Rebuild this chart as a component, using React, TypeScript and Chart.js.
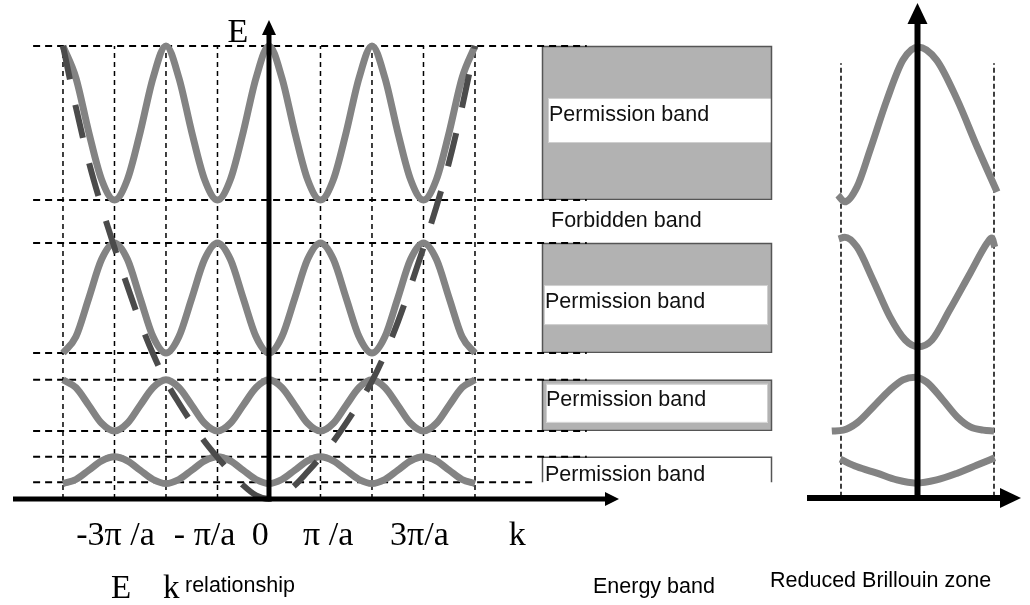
import React, { useEffect, useRef } from "react";
import { Chart, registerables } from "chart.js";

Chart.register(...registerables);

// Wave vector samples (grid units, 1 unit = π/a) and extended-zone energy bands (arb. units)
const kSamples = [
  -4, -3.75, -3.5, -3.25, -3, -2.75, -2.5, -2.25, -2, -1.75, -1.5, -1.25, -1, -0.75, -0.5, -0.25,
  0, 0.25, 0.5, 0.75, 1, 1.25, 1.5, 1.75, 2, 2.25, 2.5, 2.75, 3, 3.25, 3.5, 3.75, 4,
];

const band1 = [
  10, 9.3, 8.1, 7.05, 6.6, 7.05, 8.1, 9.3, 10, 9.3, 8.1, 7.05, 6.6, 7.05, 8.1, 9.3,
  10, 9.3, 8.1, 7.05, 6.6, 7.05, 8.1, 9.3, 10, 9.3, 8.1, 7.05, 6.6, 7.05, 8.1, 9.3, 10,
];
const band2 = [
  3.22, 3.58, 4.43, 5.29, 5.65, 5.29, 4.43, 3.58, 3.22, 3.58, 4.43, 5.29, 5.65, 5.29, 4.43, 3.58,
  3.22, 3.58, 4.43, 5.29, 5.65, 5.29, 4.43, 3.58, 3.22, 3.58, 4.43, 5.29, 5.65, 5.29, 4.43, 3.58, 3.22,
];
const band3 = [
  2.63, 2.46, 2.07, 1.67, 1.5, 1.67, 2.07, 2.46, 2.63, 2.46, 2.07, 1.67, 1.5, 1.67, 2.07, 2.46,
  2.63, 2.46, 2.07, 1.67, 1.5, 1.67, 2.07, 2.46, 2.63, 2.46, 2.07, 1.67, 1.5, 1.67, 2.07, 2.46, 2.63,
];
const band4 = [
  0.34, 0.43, 0.635, 0.84, 0.93, 0.84, 0.635, 0.43, 0.34, 0.43, 0.635, 0.84, 0.93, 0.84, 0.635, 0.43,
  0.34, 0.43, 0.635, 0.84, 0.93, 0.84, 0.635, 0.43, 0.34, 0.43, 0.635, 0.84, 0.93, 0.84, 0.635, 0.43, 0.34,
];

// Free-electron parabola E(k)
const freeElectron = [
  10, 8.65, 7.45, 6.45, 5.55, 4.7, 3.9, 3.2, 2.6, 2.12, 1.68, 1.27, 0.92, 0.6, 0.3, 0.08,
  0, 0.08, 0.3, 0.6, 0.92, 1.27, 1.68, 2.12, 2.6, 3.2, 3.9, 4.7, 5.55, 6.45, 7.45, 8.65, 10,
];

// Allowed band limits [top, bottom]
const bandRanges: [number, number][] = [
  [10, 6.6],
  [5.65, 3.22],
  [2.63, 1.5],
  [0.93, 0.37],
];
const gridK = [-4, -3, -2, -1, 1, 2, 3, 4];

// Reduced zone (u = k / (π/a) folded into [-1, 1])
const reducedU1 = [-1.04, -0.95, -0.79, -0.62, -0.4, -0.19, 0.01, 0.25, 0.52, 0.78, 1.04];
const reducedE1 = [6.71, 6.56, 6.89, 7.7, 8.81, 9.69, 9.98, 9.69, 8.81, 7.77, 6.78];
const reducedU2 = [-1.03, -0.95, -0.79, -0.58, -0.36, -0.16, 0.01, 0.19, 0.42, 0.69, 0.91, 0.97, 1.01];
const reducedE2 = [5.74, 5.78, 5.56, 4.83, 4.02, 3.51, 3.36, 3.51, 4.17, 4.99, 5.65, 5.76, 5.56];
const reducedU3 = [-1.12, -0.97, -0.79, -0.58, -0.36, -0.19, -0.03, 0.12, 0.33, 0.52, 0.69, 0.86, 1.0];
const reducedE3 = [1.5, 1.52, 1.68, 2.03, 2.41, 2.63, 2.69, 2.58, 2.19, 1.81, 1.59, 1.52, 1.5];
const reducedU4 = [-1.01, -0.79, -0.53, -0.27, -0.02, 0.25, 0.52, 0.78, 1.01];
const reducedE4 = [0.88, 0.71, 0.57, 0.42, 0.35, 0.42, 0.57, 0.75, 0.91];
const zoneEdges = [-1, 1];

// Axis texts
const tickLabels = ["-3π /a", "- π/a", "0", "π /a", "3π/a", "k"];
const tickPositions = [-2.98, -1.25, -0.17, 1.15, 2.92, 4.82];
const bandLabel = "Permission band";
const gapLabel = "Forbidden band";

// ---- layout / style ----
const W = 1030;
const H = 605;
const BOX_L = 542;
const BOX_R = 772;
const GUIDE_K_START = -4.58;
const GUIDE_K_END = 6.17;
const GUIDE_K_END_SHORT = 5.2;
const SERIF = '"Liberation Serif", "Times New Roman", serif';
const SANS = '"Liberation Sans", Arial, sans-serif';
const BAND_GRAY = "#838383";

type BoxStyle = {
  fill: string;
  strip?: [number, number, number, number]; // x0, x1, offset top, offset bottom
  textX: number;
  textDy: number;
  openBottom?: boolean;
};
const boxStyles: BoxStyle[] = [
  { fill: "#b2b2b2", strip: [548, 772, 52, 97], textX: 549, textDy: 75 },
  { fill: "#b2b2b2", strip: [544, 768, 42, 82], textX: 545, textDy: 65 },
  { fill: "#b2b2b2", strip: [546, 768, 4, 43], textX: 546, textDy: 26 },
  { fill: "#ffffff", textX: 545, textDy: 24, openBottom: true },
];

const pts = (xs: number[], ys: number[]) => xs.map((x, i) => ({ x, y: ys[i] }));

const decorPlugin = {
  id: "bandDecor",
  beforeDatasetsDraw(chart: any) {
    const ctx: CanvasRenderingContext2D = chart.ctx;
    const ys = chart.scales.y;
    ctx.save();
    ctx.font = `21.5px ${SANS}`;
    ctx.textBaseline = "alphabetic";
    bandRanges.forEach(([hi, lo], i) => {
      const st = boxStyles[i];
      const top = ys.getPixelForValue(hi);
      const bottom = ys.getPixelForValue(lo);
      ctx.save();
      ctx.beginPath();
      ctx.rect(BOX_L - 2, top - 2, BOX_R - BOX_L + 4, bottom - top + 2);
      ctx.clip();
      ctx.fillStyle = st.fill;
      ctx.fillRect(BOX_L, top, BOX_R - BOX_L, bottom - top);
      if (st.strip) {
        const [sx0, sx1, o0, o1] = st.strip;
        ctx.fillStyle = "#ffffff";
        ctx.fillRect(sx0, top + o0, sx1 - sx0, o1 - o0);
        ctx.strokeStyle = "#cfcfcf";
        ctx.lineWidth = 1;
        ctx.strokeRect(sx0 + 0.5, top + o0 + 0.5, sx1 - sx0 - 1, o1 - o0 - 1);
      }
      ctx.strokeStyle = "#555555";
      ctx.lineWidth = 1.5;
      ctx.beginPath();
      if (st.openBottom) {
        ctx.moveTo(BOX_L + 0.5, bottom + 2);
        ctx.lineTo(BOX_L + 0.5, top + 0.5);
        ctx.lineTo(BOX_R - 0.5, top + 0.5);
        ctx.lineTo(BOX_R - 0.5, bottom + 2);
      } else {
        ctx.rect(BOX_L + 0.5, top + 0.5, BOX_R - BOX_L - 1, bottom - top - 1);
      }
      ctx.stroke();
      ctx.fillStyle = "#111111";
      ctx.textAlign = "left";
      ctx.fillText(bandLabel, st.textX, top + st.textDy);
      ctx.restore();
    });
    ctx.fillStyle = "#111111";
    ctx.textAlign = "left";
    ctx.fillText(gapLabel, 551, ys.getPixelForValue(bandRanges[0][1]) + 27);
    ctx.restore();
  },
  afterDatasetsDraw(chart: any) {
    const ctx: CanvasRenderingContext2D = chart.ctx;
    const xs = chart.scales.x;
    const xr = chart.scales.xr;
    const ys = chart.scales.y;
    const x0 = xs.getPixelForValue(0);
    const y0 = ys.getPixelForValue(0);
    const xr0 = xr.getPixelForValue(0);
    ctx.save();
    ctx.fillStyle = "#000";
    ctx.strokeStyle = "#000";
    ctx.lineCap = "butt";

    // extended-zone axes
    ctx.lineWidth = 5;
    ctx.beginPath();
    ctx.moveTo(x0, y0 + 2);
    ctx.lineTo(x0, 32);
    ctx.moveTo(13, y0);
    ctx.lineTo(607, y0);
    ctx.stroke();
    ctx.beginPath();
    ctx.moveTo(x0, 20);
    ctx.lineTo(x0 - 7, 35);
    ctx.lineTo(x0 + 7, 35);
    ctx.closePath();
    ctx.fill();
    ctx.beginPath();
    ctx.moveTo(619, y0);
    ctx.lineTo(605, y0 - 7);
    ctx.lineTo(605, y0 + 7);
    ctx.closePath();
    ctx.fill();

    // reduced-zone axes
    ctx.lineWidth = 6;
    ctx.beginPath();
    ctx.moveTo(xr0, y0 + 2);
    ctx.lineTo(xr0, 20);
    ctx.moveTo(807, y0 - 1);
    ctx.lineTo(1003, y0 - 1);
    ctx.stroke();
    ctx.beginPath();
    ctx.moveTo(xr0, 3);
    ctx.lineTo(xr0 - 10, 24);
    ctx.lineTo(xr0 + 10, 24);
    ctx.closePath();
    ctx.fill();
    ctx.beginPath();
    ctx.moveTo(1021, y0 - 1);
    ctx.lineTo(1000, y0 - 11);
    ctx.lineTo(1000, y0 + 9);
    ctx.closePath();
    ctx.fill();

    // texts
    ctx.textBaseline = "alphabetic";
    ctx.font = `34px ${SERIF}`;
    ctx.textAlign = "center";
    tickLabels.forEach((t, i) => ctx.fillText(t, xs.getPixelForValue(tickPositions[i]), 545));
    ctx.fillText("E", 238, 42);

    ctx.textAlign = "left";
    ctx.font = `33px ${SERIF}`;
    ctx.fillText("E", 111, 598);
    ctx.fillText("k", 163, 598);
    ctx.font = `21.5px ${SANS}`;
    ctx.fillText("relationship", 185, 592);
    ctx.fillText("Energy band", 593, 593);
    ctx.fillText("Reduced Brillouin zone", 770, 587);
    ctx.restore();
  },
};

export default function App() {
  const ref = useRef<HTMLCanvasElement>(null);

  useEffect(() => {
    if (!ref.current) return;

    const curve = (data: any[], extra: any = {}) => ({
      type: "line",
      data,
      borderColor: BAND_GRAY,
      borderWidth: 7,
      pointRadius: 0,
      fill: false,
      cubicInterpolationMode: "monotone",
      borderCapStyle: "butt",
      order: 1,
      ...extra,
    });
    const edges = bandRanges.flat();
    const hLines = edges.map((e, i) => ({
      type: "line",
      data: [
        { x: GUIDE_K_START, y: e },
        { x: i === edges.length - 1 ? GUIDE_K_END_SHORT : GUIDE_K_END, y: e },
      ],
      borderColor: "#000",
      borderWidth: 2,
      borderDash: [7, 5],
      pointRadius: 0,
      fill: false,
      order: 3,
    }));
    const vLines = gridK.map((k) => ({
      type: "line",
      data: [
        { x: k, y: 0 },
        { x: k, y: 10 },
      ],
      borderColor: "#000",
      borderWidth: 1.5,
      borderDash: [5, 4],
      pointRadius: 0,
      fill: false,
      order: 3,
    }));
    const zoneLines = zoneEdges.map((u) => ({
      type: "line",
      xAxisID: "xr",
      data: [
        { x: u, y: 0.05 },
        { x: u, y: 9.62 },
      ],
      borderColor: "#000",
      borderWidth: 1.5,
      borderDash: [5, 3],
      pointRadius: 0,
      fill: false,
      order: 3,
    }));

    const datasets: any[] = [
      curve(pts(kSamples, freeElectron), {
        borderColor: "#4b4b4b",
        borderWidth: 6,
        borderDash: [34, 26],
        order: 0,
      }),
      curve(pts(kSamples, band1)),
      curve(pts(kSamples, band2)),
      curve(pts(kSamples, band3)),
      curve(pts(kSamples, band4)),
      curve(pts(reducedU1, reducedE1), { xAxisID: "xr" }),
      curve(pts(reducedU2, reducedE2), { xAxisID: "xr" }),
      curve(pts(reducedU3, reducedE3), { xAxisID: "xr" }),
      curve(pts(reducedU4, reducedE4), { xAxisID: "xr" }),
      ...hLines,
      ...vLines,
      ...zoneLines,
    ];

    const chart = new Chart(ref.current, {
      type: "line",
      data: { datasets },
      options: {
        animation: false,
        responsive: true,
        maintainAspectRatio: false,
        events: [],
        layout: { padding: 0 },
        plugins: {
          legend: { display: false },
          tooltip: { enabled: false },
        },
        scales: {
          x: { type: "linear", display: false, min: -5.223, max: 14.777 },
          xr: { type: "linear", axis: "x", display: false, min: -11.993, max: 1.4706 },
          y: { type: "linear", display: false, min: -2.34, max: 11.015 },
        },
      },
      plugins: [decorPlugin],
    } as any);

    return () => chart.destroy();
  }, []);

  return (
    <div
      style={{
        position: "fixed",
        left: 0,
        top: 0,
        width: W,
        height: H,
        background: "#ffffff",
      }}
    >
      <canvas ref={ref} />
    </div>
  );
}
